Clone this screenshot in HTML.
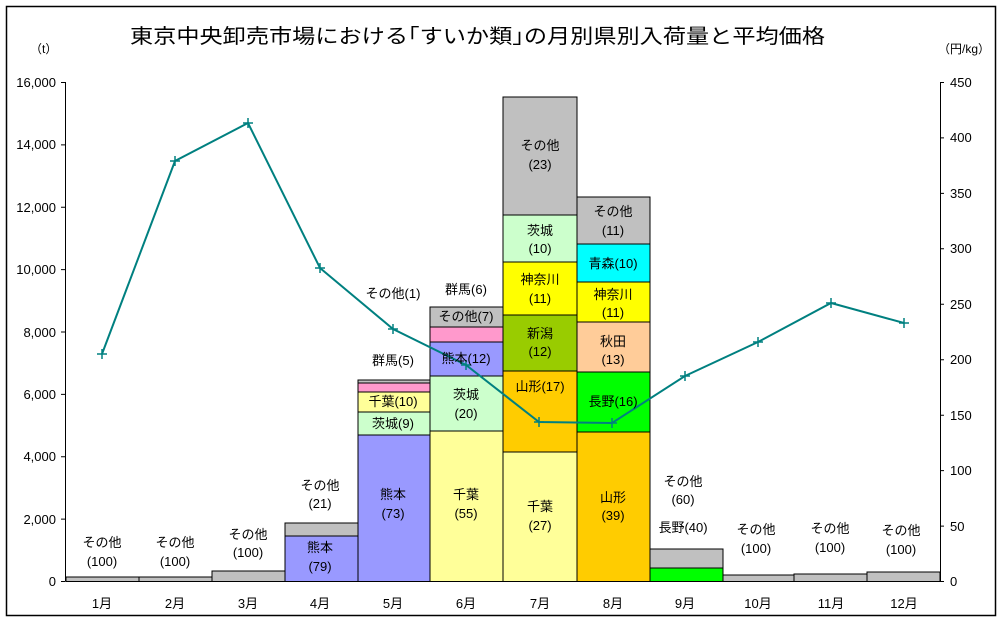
<!DOCTYPE html>
<html><head><meta charset="utf-8"><style>
body{margin:0;background:#fff}
svg{display:block}
text{font-family:"Liberation Sans","Noto Sans CJK JP",sans-serif;fill:#000}
</style></head><body>
<svg width="1003" height="620" xmlns="http://www.w3.org/2000/svg">
<rect x="6.5" y="6.5" width="989" height="609" fill="#fff" stroke="#000" stroke-width="1.5"/>
<text x="130" y="43" font-size="20" textLength="695" lengthAdjust="spacingAndGlyphs">東京中央卸売市場における｢すいか類｣の月別県別入荷量と平均価格</text>
<text x="30" y="53" font-size="12">（t）</text>
<text x="938" y="53" font-size="12">（円/kg）</text>
<g stroke="#000" stroke-width="1" fill="none">
<path d="M65.5 82V581.5M940.5 82V581.5M61 82.5h4M61 144.9h4M61 207.3h4M61 269.6h4M61 332h4M61 394.4h4M61 456.8h4M61 519.1h4M61 581.5h4"/>
<path d="M940 82.5h4M940 137.9h4M940 193.4h4M940 248.8h4M940 304.3h4M940 359.7h4M940 415.2h4M940 470.6h4M940 526.1h4M940 581.5h4"/>
</g>
<g font-size="13" text-anchor="end">
<text x="56" y="87">16,000</text><text x="56" y="149">14,000</text><text x="56" y="212">12,000</text><text x="56" y="274">10,000</text><text x="56" y="337">8,000</text><text x="56" y="399">6,000</text><text x="56" y="461">4,000</text><text x="56" y="524">2,000</text><text x="56" y="586">0</text>
</g>
<g font-size="13">
<text x="950" y="87">450</text><text x="950" y="142">400</text><text x="950" y="198">350</text><text x="950" y="253">300</text><text x="950" y="309">250</text><text x="950" y="364">200</text><text x="950" y="420">150</text><text x="950" y="475">100</text><text x="950" y="531">50</text><text x="950" y="586">0</text>
</g>
<g stroke="#000" stroke-width="1">
<rect x="66" y="577" width="73" height="4.5" fill="#c0c0c0"/>
<rect x="139" y="577" width="73" height="4.5" fill="#c0c0c0"/>
<rect x="212" y="571" width="73" height="10.5" fill="#c0c0c0"/>
<rect x="285" y="523" width="73" height="13" fill="#c0c0c0"/>
<rect x="285" y="536" width="73" height="45.5" fill="#9999ff"/>
<rect x="358" y="380" width="72" height="3" fill="#c0c0c0"/>
<rect x="358" y="383" width="72" height="9" fill="#ff99cc"/>
<rect x="358" y="392" width="72" height="20" fill="#ffff99"/>
<rect x="358" y="412" width="72" height="23" fill="#ccffcc"/>
<rect x="358" y="435" width="72" height="146.5" fill="#9999ff"/>
<rect x="430" y="307" width="73" height="20" fill="#c0c0c0"/>
<rect x="430" y="327" width="73" height="15" fill="#ff99cc"/>
<rect x="430" y="342" width="73" height="34" fill="#9999ff"/>
<rect x="430" y="376" width="73" height="55" fill="#ccffcc"/>
<rect x="430" y="431" width="73" height="150.5" fill="#ffff99"/>
<rect x="503" y="97" width="74" height="118" fill="#c0c0c0"/>
<rect x="503" y="215" width="74" height="47" fill="#ccffcc"/>
<rect x="503" y="262" width="74" height="53" fill="#ffff00"/>
<rect x="503" y="315" width="74" height="56" fill="#99cc00"/>
<rect x="503" y="371" width="74" height="81" fill="#ffcc00"/>
<rect x="503" y="452" width="74" height="129.5" fill="#ffff99"/>
<rect x="577" y="197" width="73" height="47" fill="#c0c0c0"/>
<rect x="577" y="244" width="73" height="38" fill="#00ffff"/>
<rect x="577" y="282" width="73" height="40" fill="#ffff00"/>
<rect x="577" y="322" width="73" height="50" fill="#ffcc99"/>
<rect x="577" y="372" width="73" height="60" fill="#00ff00"/>
<rect x="577" y="432" width="73" height="149.5" fill="#ffcc00"/>
<rect x="650" y="549" width="73" height="19" fill="#c0c0c0"/>
<rect x="650" y="568" width="73" height="13.5" fill="#00ff00"/>
<rect x="723" y="575" width="71" height="6.5" fill="#c0c0c0"/>
<rect x="794" y="574" width="73" height="7.5" fill="#c0c0c0"/>
<rect x="867" y="572" width="73" height="9.5" fill="#c0c0c0"/>
</g>
<polyline fill="none" stroke="#008080" stroke-width="2" points="102,354 175,161 248,123 320,268 393,329 466,365 539,422 612,423 685,376 758,342 831,303 904,323"/>
<g stroke="#008080" stroke-width="1.5">
<path d="M97 354h10M102 349v10M170 161h10M175 156v10M243 123h10M248 118v10M315 268h10M320 263v10M388 329h10M393 324v10M461 365h10M466 360v10M534 422h10M539 417v10M607 423h10M612 418v10M680 376h10M685 371v10M753 342h10M758 337v10M826 303h10M831 298v10M899 323h10M904 318v10"/>
</g>
<g font-size="13" text-anchor="middle">
<text x="102" y="547">その他</text><text x="102" y="566">(100)</text>
<text x="175" y="547">その他</text><text x="175" y="566">(100)</text>
<text x="248" y="539">その他</text><text x="248" y="557">(100)</text>
<text x="320" y="490">その他</text><text x="320" y="508">(21)</text>
<text x="320" y="552">熊本</text><text x="320" y="571">(79)</text>
<text x="393" y="298">その他(1)</text>
<text x="393" y="365">群馬(5)</text>
<text x="393" y="406">千葉(10)</text>
<text x="393" y="428">茨城(9)</text>
<text x="393" y="499">熊本</text><text x="393" y="518">(73)</text>
<text x="466" y="294">群馬(6)</text>
<text x="466" y="321">その他(7)</text>
<text x="466" y="363">熊本(12)</text>
<text x="466" y="399">茨城</text><text x="466" y="418">(20)</text>
<text x="466" y="499">千葉</text><text x="466" y="518">(55)</text>
<text x="540" y="150">その他</text><text x="540" y="169">(23)</text>
<text x="540" y="235">茨城</text><text x="540" y="253">(10)</text>
<text x="540" y="284">神奈川</text><text x="540" y="303">(11)</text>
<text x="540" y="338">新潟</text><text x="540" y="356">(12)</text>
<text x="540" y="391">山形(17)</text>
<text x="540" y="511">千葉</text><text x="540" y="530">(27)</text>
<text x="613" y="216">その他</text><text x="613" y="235">(11)</text>
<text x="613" y="268">青森(10)</text>
<text x="613" y="299">神奈川</text><text x="613" y="317">(11)</text>
<text x="613" y="346">秋田</text><text x="613" y="364">(13)</text>
<text x="613" y="406">長野(16)</text>
<text x="613" y="502">山形</text><text x="613" y="520">(39)</text>
<text x="683" y="486">その他</text><text x="683" y="504">(60)</text>
<text x="683" y="532">長野(40)</text>
<text x="756" y="534">その他</text><text x="756" y="553">(100)</text>
<text x="830" y="533">その他</text><text x="830" y="552">(100)</text>
<text x="901" y="535">その他</text><text x="901" y="554">(100)</text>
</g>
<g font-size="13" text-anchor="middle">
<text x="102" y="608">1月</text><text x="175" y="608">2月</text><text x="248" y="608">3月</text><text x="320" y="608">4月</text><text x="393" y="608">5月</text><text x="466" y="608">6月</text><text x="540" y="608">7月</text><text x="613" y="608">8月</text><text x="685" y="608">9月</text><text x="758" y="608">10月</text><text x="831" y="608">11月</text><text x="904" y="608">12月</text>
</g>
</svg>
</body></html>
